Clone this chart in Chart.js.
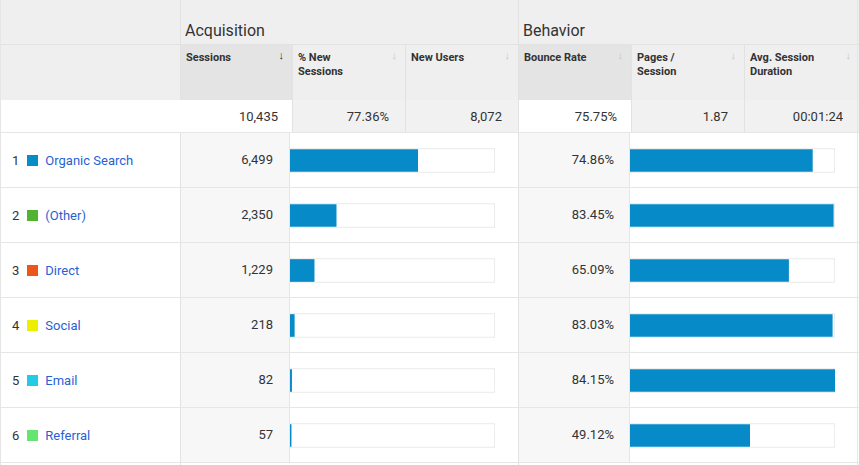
<!DOCTYPE html>
<html>
<head>
<meta charset="utf-8">
<script src="https://cdn.jsdelivr.net/npm/chart.js@4.4.1/dist/chart.umd.min.js"></script>
<style>
  body { margin:0; background:#fff; font-family: Roboto, "Open Sans", Arial, sans-serif; color:#333; }
  #wrap { position:relative; width:859px; height:465px; overflow:hidden; }
  .box { position:absolute; box-sizing:border-box; }
  .hd { font-size:11px; font-weight:bold; color:#333; line-height:14px; padding:6px 0 0 5px; }
  .arr { position:absolute; right:8px; top:4px; font-size:11px; color:#c8c8c8; font-weight:normal; }
  .num { font-size:13px; text-align:right; color:#333; }
  .lbl { font-size:13px; color:#333; }
  .lbl a { color:#2a5fd4; text-decoration:none; }
  .sq { display:inline-block; width:11px; height:11px; vertical-align:-1px; margin:0 7px 0 8px; }
  canvas { position:absolute; }
</style>
</head>
<body>
<div id="wrap"></div>
<script>
// data
var channels = ['Organic Search', '(Other)', 'Direct', 'Social', 'Email', 'Referral'];
var channelColors = ['#058dc7', '#50b432', '#ed561b', '#edef00', '#24cbe5', '#64e572'];
var sessions = [6499, 2350, 1229, 218, 82, 57];
var bounceRate = [74.86, 83.45, 65.09, 83.03, 84.15, 49.12];
var totalSessions = 10435;
var totals = ['10,435', '77.36%', '8,072', '75.75%', '1.87', '00:01:24'];
var headers = ['Sessions', '% New<br>Sessions', 'New Users', 'Bounce Rate', 'Pages /<br>Session', 'Avg. Session<br>Duration'];

var wrap = document.getElementById('wrap');
function box(x, y, w, h, style, html, cls) {
  var d = document.createElement('div');
  d.className = 'box' + (cls ? ' ' + cls : '');
  d.style.left = x + 'px'; d.style.top = y + 'px';
  d.style.width = w + 'px'; d.style.height = h + 'px';
  if (style) d.style.cssText += style;
  if (html) d.innerHTML = html;
  wrap.appendChild(d);
  return d;
}

// header backgrounds
box(0, 0, 859, 100, 'background:#efefef;');
box(180, 0, 1, 465, 'background:#e2e2e2;');
box(518, 0, 1, 465, 'background:#e2e2e2;');
box(0, 44, 859, 1, 'background:#e2e2e2;');
box(185, 21, 200, 22, 'font-size:16px;color:#333;', 'Acquisition');
box(523, 21, 200, 22, 'font-size:16px;color:#333;', 'Behavior');

var colX = [180, 292, 405, 518, 631, 744, 859];
for (var i = 0; i < 6; i++) {
  var bg = (i === 0 || i === 3) ? '#e4e4e4' : '#efefef';
  var cell = box(colX[i] + 1, 45, colX[i + 1] - colX[i] - 1, 55, 'background:' + bg + ';', headers[i], 'hd');
  var a = document.createElement('span');
  a.className = 'arr';
  a.textContent = '\u2193';
  if (i === 0) { a.style.color = '#333'; a.style.fontWeight = 'bold'; }
  cell.appendChild(a);
  if (i > 0) box(colX[i], 45, 1, 87, 'background:#e2e2e2;');
}

// totals row
box(0, 100, 181, 32, 'background:#fff;');
for (var i = 0; i < 6; i++) {
  var bg = (i === 0 || i === 3) ? '#fff' : '#f1f1f1';
  box(colX[i] + 1, 100, colX[i + 1] - colX[i] - 1, 32,
      'background:' + bg + ';line-height:34px;padding-right:' + (i === 0 || i === 3 ? 14 : 16) + 'px;', totals[i], 'num');
}
box(0, 132, 859, 1, 'background:#e6e6e6;');

// body rows
var rowTop = 133, rowH = 55;
box(181, rowTop, 109, 330, 'background:#f7f7f7;');
box(519, rowTop, 111, 330, 'background:#f7f7f7;');
box(289, rowTop, 1, 330, 'background:#e6e6e6;');
box(629, rowTop, 1, 330, 'background:#e6e6e6;');
box(0, 0, 1, 465, 'background:#e6e6e6;');
box(857, 0, 1, 465, 'background:#e6e6e6;');
for (var r = 0; r < channels.length; r++) {
  var y = rowTop + r * rowH;
  box(0, y + rowH - 1, 859, 1, 'background:#e6e6e6;');
  box(12, y + 1, 168, rowH - 1, 'line-height:54px;',
      (r + 1) + '<span class="sq" style="background:' + channelColors[r] + '"></span><a href="#">' + channels[r] + '</a>', 'lbl');
  box(181, y + 1, 108, rowH - 1, 'line-height:52px;padding-right:16px;', sessions[r].toLocaleString('en-US'), 'num');
  box(519, y + 1, 110, rowH - 1, 'line-height:52px;padding-right:15px;', bounceRate[r].toFixed(2) + '%', 'num');
}

// bar charts
function barChart(x, values, max) {
  var c = document.createElement('canvas');
  c.style.left = x + 'px';
  c.style.top = rowTop + 'px';
  c.style.width = '228px';
  c.style.height = '330px';
  wrap.appendChild(c);
  new Chart(c, {
    type: 'bar',
    data: {
      labels: channels,
      datasets: [
        {
          data: values,
          backgroundColor: '#068bc8',
          barThickness: 22,
          grouped: false,
          order: 0
        },
        {
          data: channels.map(function () { return max; }),
          backgroundColor: '#fff',
          borderColor: '#e3e3e3',
          borderWidth: 1,
          borderSkipped: false,
          barThickness: 24,
          grouped: false,
          order: 1
        }
      ]
    },
    options: {
      indexAxis: 'y',
      responsive: false,
      animation: false,
      layout: { padding: { left: 0, right: 23, top: 0, bottom: 0 } },
      plugins: { legend: { display: false }, tooltip: { enabled: false } },
      scales: {
        x: { display: false, min: 0, max: max },
        y: { display: false }
      }
    }
  });
}
barChart(290, sessions, totalSessions);
barChart(630, bounceRate, Math.max.apply(null, bounceRate));
</script>
</body>
</html>
